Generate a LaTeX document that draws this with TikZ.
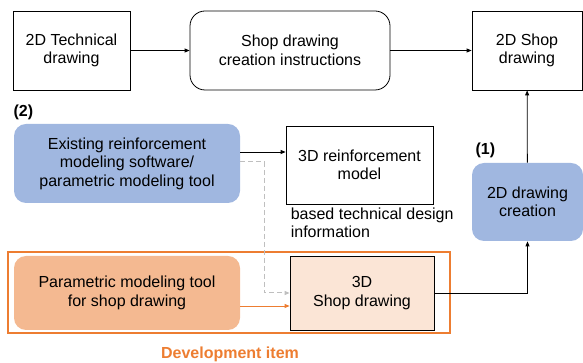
\documentclass[tikz,border=0pt]{standalone}
\usepackage{fontspec}
\setmainfont{Liberation Sans}
\usetikzlibrary{positioning}
\usetikzlibrary{arrows.meta}
\usetikzlibrary{calc}
\definecolor{toolblue}{RGB}{160,183,224}
\definecolor{toolorange}{RGB}{244,185,145}
\definecolor{shoplight}{RGB}{251,229,214}
\definecolor{devorange}{RGB}{237,125,49}
\definecolor{dashgray}{RGB}{191,191,191}
\tikzset{%
	% Specifications for style of nodes:
	base/.style = {rectangle, draw=black, thick, inner sep=4pt,
		text centered, align=center, font=\fontsize{16pt}{18.5pt}\selectfont},
	docbox/.style = {base, fill=white},
	instrbox/.style = {base, rounded corners=15pt},
	toolbox/.style = {base, draw=none, rounded corners=12pt, fill=toolblue},
	devbox/.style = {base, draw=none, rounded corners=12pt, fill=toolorange},
	shopbox/.style = {base, fill=shoplight},
	tag/.style = {font=\bfseries\fontsize{16pt}{18pt}\selectfont},
	arr/.style = {-{Triangle[length=5pt,width=4pt]}, thick},
}
\begin{document}
\begin{tikzpicture}[x=1pt, y=1pt, node distance=1.5cm]
	\useasboundingbox (0,0) rectangle (583,363);
	
	\node (tech) [docbox, minimum width=117pt, minimum height=79pt] at (71.5,312.5) {2D Technical\\drawing};
	\node (instr) [instrbox, minimum width=200pt, minimum height=79pt] at (290,312.5) {Shop drawing\\creation instructions};
	\node (shop2d) [docbox, minimum width=110pt, minimum height=79pt] at (527,312.5) {2D Shop\\drawing};
	\draw[arr] (tech) -- (instr);
	\draw[arr] (instr) -- (shop2d);
	
	\node (exist) [toolbox, minimum width=226pt, minimum height=79pt] at (127,199.5) {Existing reinforcement\\modeling software/\\parametric modeling tool};
	\node (lbltwo) [tag, anchor=west] at (10,251) {(2)};
	\node (reinf) [docbox, minimum width=147pt, minimum height=78pt] at (359.5,198) {3D reinforcement\\model};
	\node (info) [below=3pt of reinf.south west, anchor=north west, align=left, inner sep=0pt, font=\fontsize{16pt}{18.5pt}\selectfont, xshift=5pt] {based technical design\\information};
	\draw[arr] ([yshift=11.5pt]exist.east) -- ([yshift=11.5pt]exist.east -| reinf.west);
	
	\node (create2d) [toolbox, minimum width=111pt, minimum height=78pt] at (527.5,161) {2D drawing\\creation};
	\node (lblone) [tag, anchor=west] at (472,213) {(1)};
	\draw[arr] (create2d) -- (shop2d);
	
	\node (param) [devbox, minimum width=226pt, minimum height=74pt] at (127,70) {Parametric modeling tool\\for shop drawing};
	\node (shop3d) [shopbox, minimum width=144pt, minimum height=74pt] at (362,70) {3D\\Shop drawing};
	\draw[line width=1.2pt, devorange] (8,30) rectangle (450,111);
	\node (devitem) [tag, text=devorange] at (230,9) {Development item};
	
	\draw[arr, devorange] ([yshift=-13pt]param.east) -- ([yshift=-13pt]param.east -| shop3d.west);
	\path let
	\p1 = ([yshift=1.5pt]exist.east),
	\p2 = (shop3d.west)
	in
	coordinate (dashTop) at (\x1+24pt, \y1)
	coordinate (dashLow) at (\x1+24pt, \y2);
	\draw[arr, dashgray, line width=1pt, dash pattern=on 5pt off 3pt] ([yshift=1.5pt]exist.east) -- (dashTop) -- (dashLow) -- (shop3d.west);
	\draw[arr] (shop3d.east) -| (create2d.south);
\end{tikzpicture}
\end{document}
